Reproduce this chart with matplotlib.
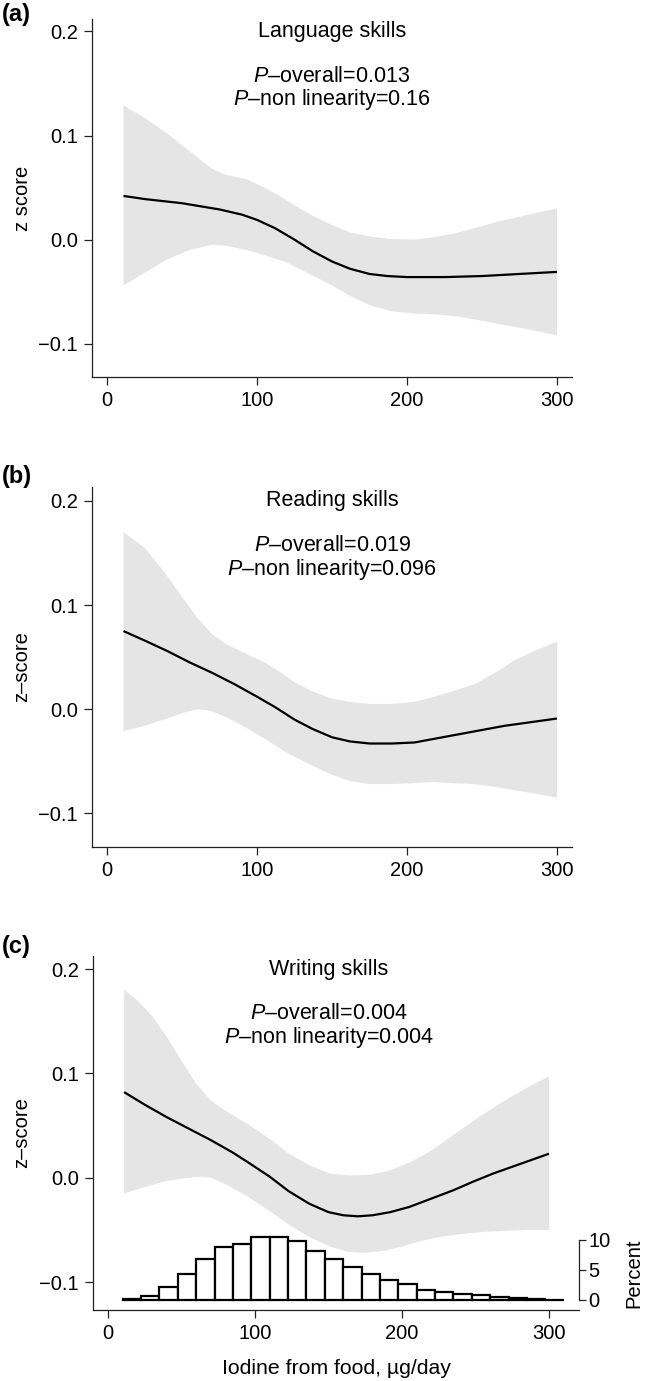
import numpy as np
import matplotlib
matplotlib.use("Agg")
import matplotlib.pyplot as plt

plt.rcParams['font.family'] = 'Liberation Sans'
plt.rcParams['mathtext.fontset'] = 'custom'
plt.rcParams['mathtext.it'] = 'Liberation Sans:italic'
plt.rcParams['mathtext.rm'] = 'Liberation Sans'

# panel (a) - language skills
xa = [11, 25, 50, 75, 90, 100, 112, 125, 137, 150, 162, 175, 187, 200, 225, 250, 275, 300]
ya = [0.042, 0.039, 0.035, 0.029, 0.024, 0.019, 0.011, 0.000, -0.011, -0.021, -0.028, -0.033,
      -0.035, -0.036, -0.036, -0.035, -0.033, -0.031]
xa_hi = [11, 25, 40, 55, 70, 80, 93, 105, 115, 125, 137, 150, 162, 175, 190, 205, 217, 232, 245, 260, 275, 290, 300]
ya_hi = [0.129, 0.117, 0.102, 0.085, 0.068, 0.062, 0.058, 0.050, 0.042, 0.033, 0.023, 0.014, 0.007,
         0.003, 0.0005, 0.000, 0.002, 0.006, 0.011, 0.017, 0.022, 0.027, 0.030]
xa_lo = [11, 25, 40, 55, 70, 80, 93, 105, 120, 135, 150, 162, 175, 190, 205, 220, 235, 250, 265, 280, 300]
ya_lo = [-0.044, -0.032, -0.019, -0.010, -0.005, -0.006, -0.010, -0.015, -0.022, -0.033, -0.044,
         -0.054, -0.063, -0.069, -0.071, -0.072, -0.074, -0.078, -0.082, -0.086, -0.092]

# panel (b) - reading skills
xb = [11, 25, 40, 55, 70, 85, 100, 112, 125, 137, 150, 162, 175, 190, 205, 220, 235, 250, 265, 280, 300]
yb = [0.075, 0.066, 0.056, 0.045, 0.035, 0.024, 0.012, 0.002, -0.010, -0.019, -0.027, -0.031,
      -0.033, -0.033, -0.032, -0.028, -0.024, -0.020, -0.016, -0.013, -0.009]
xb_hi = [11, 25, 38, 50, 60, 70, 80, 93, 105, 115, 125, 137, 150, 162, 175, 190, 205, 217, 230, 245, 260, 272, 285, 300]
yb_hi = [0.170, 0.155, 0.132, 0.108, 0.088, 0.072, 0.062, 0.053, 0.045, 0.036, 0.026, 0.017, 0.010,
         0.007, 0.005, 0.005, 0.007, 0.0115, 0.017, 0.024, 0.036, 0.047, 0.056, 0.065]
xb_lo = [11, 25, 40, 52, 61, 70, 80, 93, 107, 120, 135, 150, 162, 175, 190, 205, 217, 230, 245, 260, 272, 285, 300]
yb_lo = [-0.021, -0.016, -0.009, -0.003, 0.000, -0.002, -0.008, -0.018, -0.030, -0.042, -0.053,
         -0.063, -0.069, -0.072, -0.072, -0.071, -0.070, -0.071, -0.072, -0.075, -0.078, -0.081, -0.085]

# panel (c) - writing skills
xc = [11, 25, 40, 55, 70, 85, 95, 110, 123, 137, 150, 160, 170, 180, 192, 205, 220, 235, 248, 262, 276, 290, 300]
yc = [0.082, 0.070, 0.058, 0.047, 0.036, 0.024, 0.015, 0.001, -0.013, -0.025, -0.033, -0.036,
      -0.037, -0.036, -0.033, -0.028, -0.020, -0.012, -0.004, 0.004, 0.011, 0.018, 0.023]
xc_hi = [11, 20, 30, 40, 50, 60, 70, 80, 92, 102, 112, 123, 137, 151, 165, 179, 192, 206, 220, 234, 248, 262, 276, 290, 300]
yc_hi = [0.180, 0.170, 0.155, 0.135, 0.112, 0.090, 0.074, 0.064, 0.054, 0.045, 0.035, 0.023, 0.012,
         0.004, 0.002, 0.003, 0.007, 0.015, 0.026, 0.040, 0.054, 0.067, 0.079, 0.090, 0.097]
xc_lo = [11, 25, 40, 55, 62, 70, 81, 95, 109, 123, 137, 151, 163, 175, 188, 200, 212, 225, 240, 255, 270, 285, 300]
yc_lo = [-0.015, -0.009, -0.003, 0.000, 0.001, 0.000, -0.007, -0.018, -0.031, -0.045, -0.057, -0.066,
         -0.071, -0.072, -0.070, -0.066, -0.061, -0.057, -0.054, -0.052, -0.051, -0.050, -0.050]

# histogram of iodine intake (percent), bins of 12.5 starting at 10
hist_left = [10 + 12.5 * i for i in range(24)]
hist_pct = [0.1, 0.6, 2.2, 4.4, 6.9, 8.8, 9.4, 10.5, 10.5, 9.8, 8.2, 6.8, 5.5, 4.4, 3.4, 2.6,
            1.7, 1.3, 1.0, 0.75, 0.45, 0.27, 0.16, 0.05]

titles = ["Language skills", "Reading skills", "Writing skills"]
p_overall = ["0.013", "0.019", "0.004"]
p_nonlin = ["0.16", "0.096", "0.004"]
ylabels = ["z score", "z\u2013score", "z\u2013score"]
letters = ["(a)", "(b)", "(c)"]
yticks = [-0.1, 0.0, 0.1, 0.2]
yticklabels = ["\u22120.1", "0.0", "0.1", "0.2"]
xticks = [0, 100, 200, 300]

W, H = 646, 1381
fig = plt.figure(figsize=(W / 100, H / 100), dpi=100)

# axes boxes in pixels: left, right, top, bottom
boxes = [(92, 572, 19, 377), (92, 572, 487, 847), (93, 579, 956, 1310)]
ylims = [(-0.132, 0.212), (-0.1324, 0.2134), (-0.1268, 0.2125)]
xlims = [(-10, 310), (-10, 310), (-10.2, 320.4)]
letter_y = [15, 477, 946]

curves = [(xa, ya, xa_hi, ya_hi, xa_lo, ya_lo),
          (xb, yb, xb_hi, yb_hi, xb_lo, yb_lo),
          (xc, yc, xc_hi, yc_hi, xc_lo, yc_lo)]

band_color = '#e5e5e5'
axis_color = '#222222'
txt = 15.5

for i in range(3):
    l, r, t, b = boxes[i]
    ax = fig.add_axes([l / W, 1 - b / H, (r - l) / W, (b - t) / H])
    x, y, xh, yh, xl, yl = curves[i]
    # confidence band as one polygon (upper edge then lower edge reversed)
    px = list(xh) + list(xl[::-1])
    py = list(yh) + list(yl[::-1])
    ax.fill(px, py, color=band_color, lw=0, zorder=1)
    ax.plot(x, y, color='black', lw=1.6, zorder=3, solid_capstyle='butt')

    ax.set_xlim(*xlims[i])
    ax.set_ylim(*ylims[i])
    ax.set_yticks(yticks)
    ax.set_yticklabels(yticklabels)
    ax.set_xticks(xticks)
    for s in ['top', 'right']:
        ax.spines[s].set_visible(False)
    for s in ['left', 'bottom']:
        ax.spines[s].set_linewidth(0.9)
        ax.spines[s].set_color(axis_color)
    ax.tick_params(axis='both', direction='out', length=6, width=0.9, color=axis_color,
                   labelsize=14.5, pad=4)
    fig.text(22 / W, 1 - (t + b) / 2 / H, ylabels[i], rotation=90, ha='center', va='center', fontsize=14.5)

    ax.text(150, 0.2, titles[i], ha='center', va='center', fontsize=txt)
    ax.text(150, 0.157, r'$P$' + '\u2013overall=' + p_overall[i], ha='center', va='center', fontsize=txt)
    ax.text(150, 0.1345, r'$P$' + '\u2013non linearity=' + p_nonlin[i], ha='center', va='center', fontsize=txt)

    fig.text(2 / W, 1 - letter_y[i] / H, letters[i], fontsize=17, fontweight='bold', ha='left', va='center')

    if i == 2:
        fig.text((l + r) / 2 / W, 1 - 1369 / H, "Iodine from food, \u00b5g/day", ha='center', va='center',
                 fontsize=15.3)
        ax2 = ax.twinx()
        ax2.bar(hist_left, hist_pct, width=12.5, align='edge', facecolor='white',
                edgecolor='black', lw=1.6, zorder=2)
        ax2.set_ylim(-1.667, 57.33)
        ax2.set_yticks([0, 5, 10])
        for s in ['top', 'left', 'bottom']:
            ax2.spines[s].set_visible(False)
        ax2.spines['right'].set_bounds(0, 10)
        ax2.spines['right'].set_linewidth(0.9)
        ax2.spines['right'].set_color(axis_color)
        ax2.tick_params(axis='y', direction='out', length=5, width=0.9, color=axis_color,
                        labelsize=14.5, pad=2)
        fig.text(634 / W, 1 - 1273 / H, "Percent", rotation=90, ha='center', va='center', fontsize=14.5)

fig.savefig("out.png", dpi=100)
